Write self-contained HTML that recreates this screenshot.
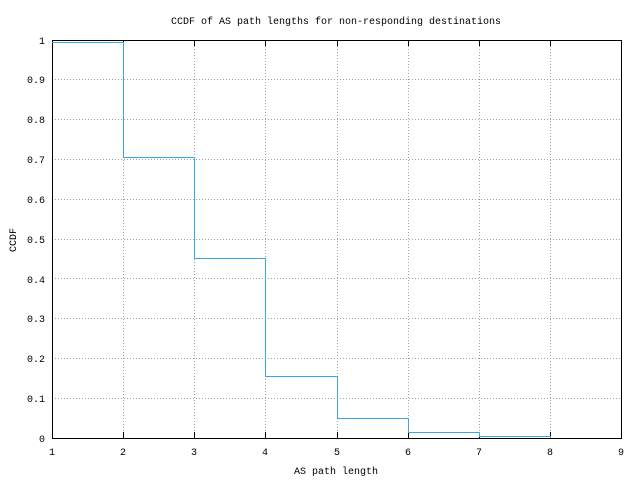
<!DOCTYPE html>
<html><head><style>
body{margin:0;background:#fff;}
svg text{font-family:"Liberation Mono",monospace;font-size:10px;fill:#000;}
</style></head><body>
<svg width="640" height="480" xmlns="http://www.w3.org/2000/svg">
<rect width="640" height="480" fill="#fff"/>
<g stroke="#a0a0a0" stroke-width="1" stroke-dasharray="1,2">
<line x1="52" y1="398.5" x2="621" y2="398.5"/>
<line x1="52" y1="358.5" x2="621" y2="358.5"/>
<line x1="52" y1="318.5" x2="621" y2="318.5"/>
<line x1="52" y1="278.5" x2="621" y2="278.5"/>
<line x1="52" y1="239.5" x2="621" y2="239.5"/>
<line x1="52" y1="199.5" x2="621" y2="199.5"/>
<line x1="52" y1="159.5" x2="621" y2="159.5"/>
<line x1="52" y1="119.5" x2="621" y2="119.5"/>
<line x1="52" y1="79.5" x2="621" y2="79.5"/>
<line x1="123.5" y1="40" x2="123.5" y2="438"/>
<line x1="194.5" y1="40" x2="194.5" y2="438"/>
<line x1="265.5" y1="40" x2="265.5" y2="438"/>
<line x1="337.5" y1="40" x2="337.5" y2="438"/>
<line x1="408.5" y1="40" x2="408.5" y2="438"/>
<line x1="479.5" y1="40" x2="479.5" y2="438"/>
<line x1="550.5" y1="40" x2="550.5" y2="438"/>
</g>
<rect x="52.5" y="40.5" width="569" height="398" fill="none" stroke="#000"/>
<g stroke="#000">
<line x1="123.5" y1="438" x2="123.5" y2="432"/><line x1="123.5" y1="40" x2="123.5" y2="46"/>
<line x1="194.5" y1="438" x2="194.5" y2="432"/><line x1="194.5" y1="40" x2="194.5" y2="46"/>
<line x1="265.5" y1="438" x2="265.5" y2="432"/><line x1="265.5" y1="40" x2="265.5" y2="46"/>
<line x1="337.5" y1="438" x2="337.5" y2="432"/><line x1="337.5" y1="40" x2="337.5" y2="46"/>
<line x1="408.5" y1="438" x2="408.5" y2="432"/><line x1="408.5" y1="40" x2="408.5" y2="46"/>
<line x1="479.5" y1="438" x2="479.5" y2="432"/><line x1="479.5" y1="40" x2="479.5" y2="46"/>
<line x1="550.5" y1="438" x2="550.5" y2="432"/><line x1="550.5" y1="40" x2="550.5" y2="46"/>
</g>
<polyline fill="none" stroke="#3aa8e8" stroke-width="1" points="52,42.5 123.5,42.5 123.5,157.5 194.5,157.5 194.5,258.5 265.5,258.5 265.5,376.5 337.5,376.5 337.5,418.5 408.5,418.5 408.5,432.5 479.5,432.5 479.5,436.5 550.5,436.5 550.5,438"/>
<g text-anchor="end">
<text x="45" y="442">0</text><text x="45" y="402">0.1</text><text x="45" y="362">0.2</text>
<text x="45" y="322">0.3</text><text x="45" y="283">0.4</text><text x="45" y="243">0.5</text>
<text x="45" y="203">0.6</text><text x="45" y="163">0.7</text><text x="45" y="123">0.8</text>
<text x="45" y="83">0.9</text><text x="45" y="44">1</text>
</g>
<g text-anchor="middle">
<text x="52" y="455">1</text><text x="123" y="455">2</text><text x="194" y="455">3</text>
<text x="265" y="455">4</text><text x="337" y="455">5</text><text x="408" y="455">6</text>
<text x="479" y="455">7</text><text x="550" y="455">8</text><text x="621" y="455">9</text>
<text x="336" y="474">AS path length</text>
<text x="336" y="24">CCDF of AS path lengths for non-responding destinations</text>
<text x="0" y="0" transform="translate(16,240) rotate(-90)">CCDF</text>
</g>
</svg>
</body></html>
